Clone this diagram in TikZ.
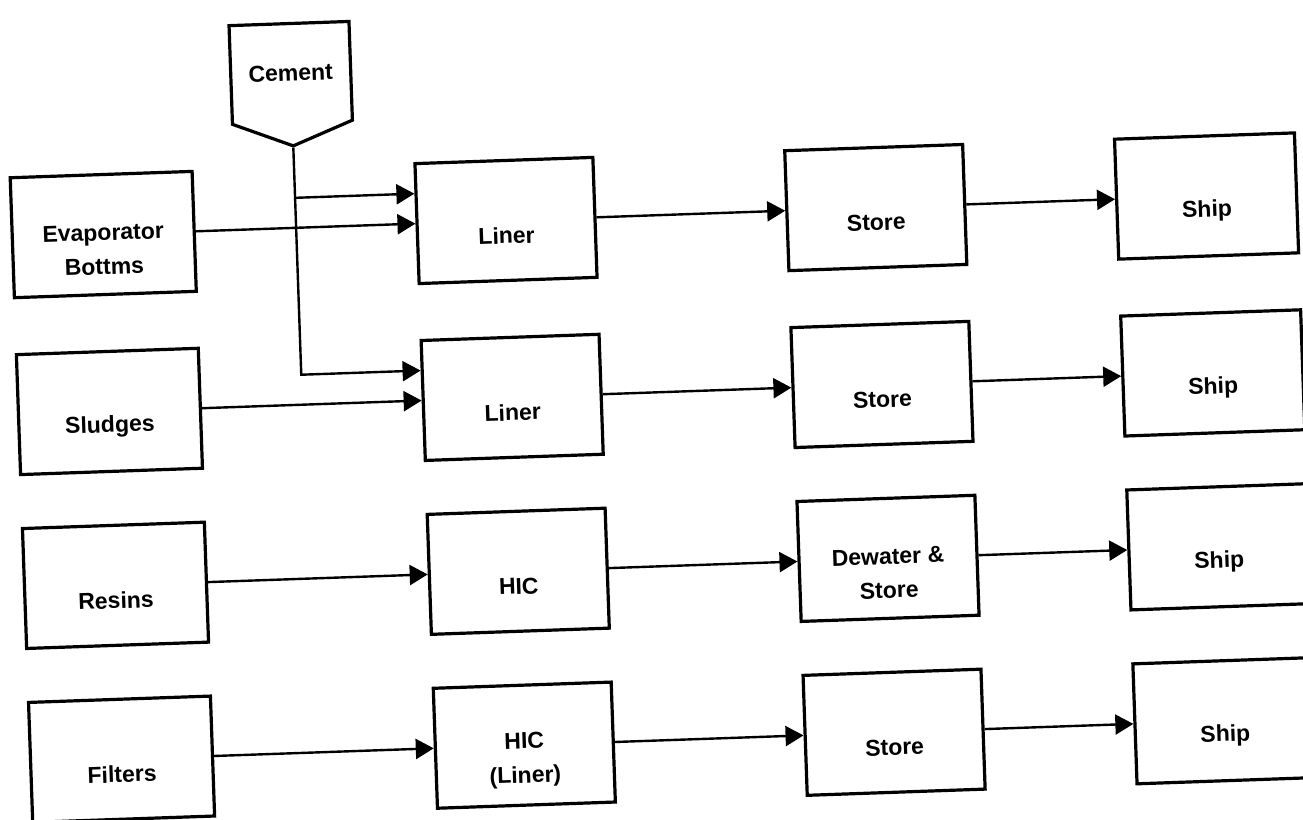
\documentclass[tikz,border=0pt]{standalone}
\usepackage{fontspec}
\setmainfont{Liberation Sans}
\usetikzlibrary{arrows.meta, shapes.symbols}

\begin{document}
\begin{tikzpicture}[
        x=0.5pt, y=-0.5pt,
        box/.style={rectangle, draw, line width=1.6pt, minimum width=89pt, minimum height=60pt},
        txt/.style={font=\fontsize{11.5}{17}\selectfont\bfseries, align=center, yshift=-7.5pt},
        arrow/.style={-{Triangle[length=9pt, width=10pt]}, line width=1.2pt}
    ]
        \path[use as bounding box, clip] (0,0) rectangle (1303,820);

    \begin{scope}[rotate=2, transform shape]
        % waste streams
        \node[box, minimum width=91pt, label={[txt]center:Evaporator\\Bottms}] (evap) at (95,238) {};
        \node[box, minimum width=91pt, label={[txt]center:Sludges}] (sludge) at (95,415) {};
        \node[box, minimum width=91pt, label={[txt]center:Resins}] (resin) at (95,589) {};
        \node[box, minimum width=91pt, label={[txt]center:Filters}] (filter) at (95,763) {};

        \node[draw, line width=1.6pt, signal, signal to=south, signal pointer angle=137,
              minimum width=60pt, minimum height=59pt, font=\fontsize{11.5}{17}\selectfont\bfseries] (cement) at (288,83) {Cement};

        % containers
        \node[box, label={[txt]center:Liner}] (liner1) at (498,238) {};
        \node[box, label={[txt]center:Liner}] (liner2) at (498,415) {};
        \node[box, label={[txt]center:HIC}] (hic) at (498,589) {};
        \node[box, label={[txt]center:HIC\\(Liner)}] (hicl) at (498,763) {};

        \node[box, label={[txt]center:Store}] (store1) at (868,238) {};
        \node[box, label={[txt]center:Store}] (store2) at (868,415) {};
        \node[box, label={[txt]center:Dewater \&\\Store}] (dewat) at (868,589) {};
        \node[box, label={[txt]center:Store}] (store4) at (868,763) {};

        \node[box, minimum width=90pt, label={[txt]center:Ship}] (ship1) at (1199,238) {};
        \node[box, minimum width=90pt, label={[txt]center:Ship}] (ship2) at (1199,415) {};
        \node[box, minimum width=90pt, label={[txt]center:Ship}] (ship3) at (1199,589) {};
        \node[box, minimum width=90pt, label={[txt]center:Ship}] (ship4) at (1199,763) {};

        % cement feed
        \coordinate (cin1) at ([yshift=15pt]liner1.west);
        \coordinate (cin2) at ([yshift=15pt]liner2.west);
        \draw[arrow] (cement.south) |- (cin2);
        \draw[arrow] (cement.south |- cin1) -- (cin1);

        \draw[arrow] (evap) -- (liner1);
        \draw[arrow] (sludge) -- (liner2);
        \draw[arrow] (resin) -- (hic);
        \draw[arrow] (filter) -- (hicl);

        \draw[arrow] (liner1) -- (store1);
        \draw[arrow] (liner2) -- (store2);
        \draw[arrow] (hic) -- (dewat);
        \draw[arrow] (hicl) -- (store4);

        \draw[arrow] (store1) -- (ship1);
        \draw[arrow] (store2) -- (ship2);
        \draw[arrow] (dewat) -- (ship3);
        \draw[arrow] (store4) -- (ship4);
    \end{scope}
    \end{tikzpicture}
\end{document}
